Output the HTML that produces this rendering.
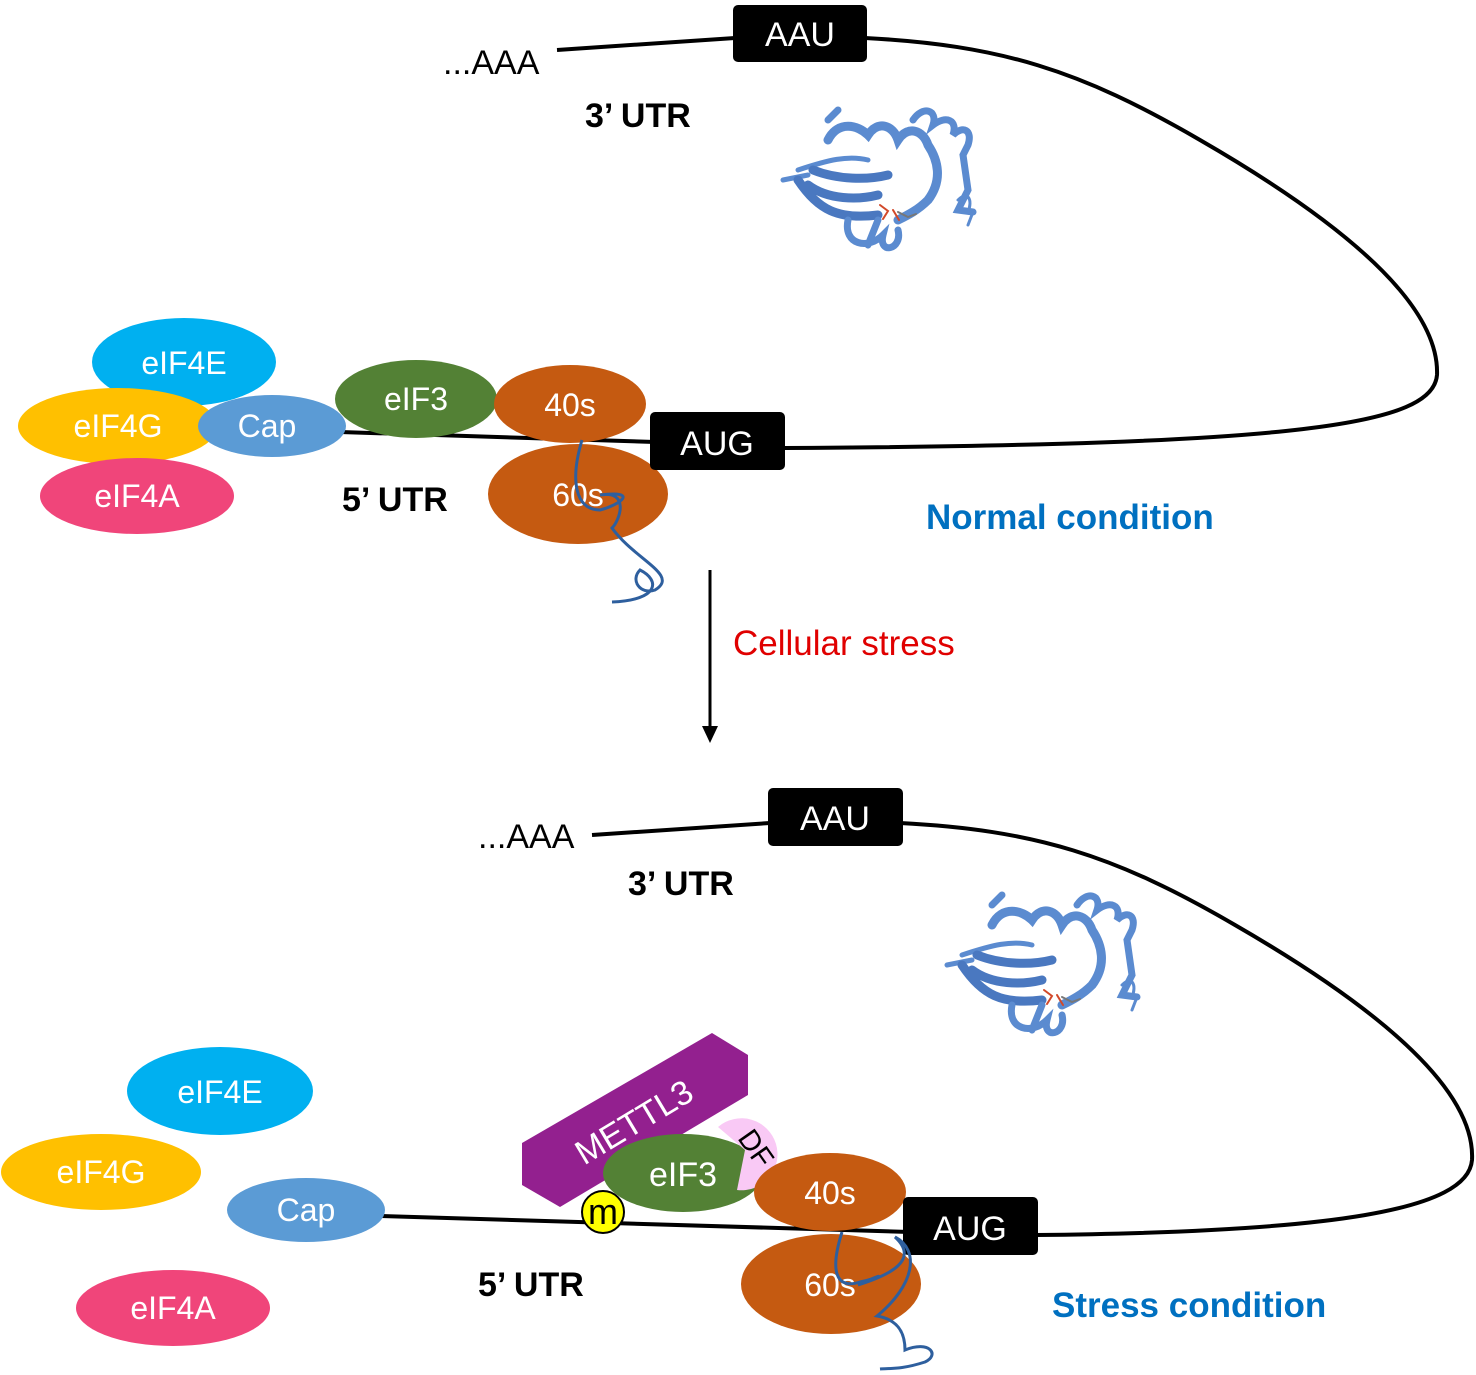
<!DOCTYPE html>
<html><head><style>body{margin:0;background:#fff}svg{display:block}</style></head><body>
<svg width="1476" height="1375" viewBox="0 0 1476 1375" xmlns="http://www.w3.org/2000/svg" font-family="Liberation Sans, sans-serif">
<defs>
<g id="prot" fill="none" stroke-linecap="round">
<path d="M15,80 L40,75 M30,70 C60,60 80,55 100,60" stroke="#5b8bd0" stroke-width="5"/>
<path d="M30,80 C50,110 70,120 110,115 M40,85 C60,100 90,100 110,95 M45,70 C70,80 100,80 120,75" stroke="#4a78c0" stroke-width="9"/>
<path d="M60,40 C70,20 90,25 100,35 C110,20 125,25 130,40 C140,25 155,30 160,45 C170,60 175,80 160,100 C150,110 140,115 130,120" stroke="#5b8bd0" stroke-width="9"/>
<path d="M145,20 C155,5 170,10 165,25 C178,15 190,20 185,35 C195,25 205,30 200,45 L195,55 L200,90 L190,110 L205,112" stroke="#5b8bd0" stroke-width="7"/>
<path d="M205,112 L200,125 M190,100 C200,90 205,100 200,112" stroke="#5b8bd0" stroke-width="3"/>
<path d="M80,120 C75,145 100,150 115,135 C110,155 135,150 130,130 M60,20 L70,10 M110,120 L100,145" stroke="#5b8bd0" stroke-width="7"/>
<path d="M112,105 l8,6 l-5,8 M125,110 l6,10" stroke="#d2492a" stroke-width="2"/>
<path d="M130,112 l10,5 l8,-3" stroke="#777" stroke-width="2"/>
</g>
</defs>
<!-- TOP -->
<path d="M557,50 L735,38" stroke="#000" stroke-width="4" fill="none"/>
<path d="M865,38 C1000,45 1080,70 1200,140 C1330,215 1440,300 1437,375 C1433,425 1300,445 785,448" stroke="#000" stroke-width="4" fill="none"/>
<path d="M340,432 L655,442" stroke="#000" stroke-width="4"/>
<rect x="733" y="5" width="134" height="57" rx="5" fill="#000"/>
<text x="800" y="46" font-size="34" fill="#fff" text-anchor="middle">AAU</text>
<text x="443" y="74" font-size="34" fill="#000">...AAA</text>
<text x="585" y="127" font-size="34" font-weight="bold" fill="#000">3’ UTR</text>
<use href="#prot" x="768" y="100"/>
<ellipse cx="184" cy="362" rx="92" ry="44" fill="#00b0f0"/>
<ellipse cx="118" cy="426" rx="100" ry="38" fill="#ffc000"/>
<ellipse cx="272" cy="426" rx="74" ry="31" fill="#5b9bd5"/>
<ellipse cx="137" cy="496" rx="97" ry="38" fill="#f0457a"/>
<ellipse cx="416" cy="399" rx="81" ry="39" fill="#538135"/>
<ellipse cx="570" cy="404" rx="76" ry="39" fill="#c55a11"/>
<ellipse cx="578" cy="494" rx="90" ry="50" fill="#c55a11"/>
<rect x="650" y="412" width="135" height="58" rx="5" fill="#000"/>
<text x="717" y="455" font-size="34" fill="#fff" text-anchor="middle">AUG</text>
<g font-size="32" fill="#fff" text-anchor="middle">
<text x="184" y="374">eIF4E</text><text x="118" y="437">eIF4G</text><text x="267" y="437">Cap</text>
<text x="137" y="507">eIF4A</text><text x="416" y="410">eIF3</text><text x="570" y="416">40s</text><text x="578" y="506">60s</text></g>
<text x="342" y="511" font-size="34" font-weight="bold" fill="#000">5’ UTR</text>
<path d="M582,440 C570,480 575,510 600,510 C620,505 640,490 600,495 C630,490 620,520 612,528 C635,560 680,575 655,590 C640,595 630,580 640,570 C660,580 660,600 612,602" stroke="#2e5f9e" stroke-width="3" fill="none"/>
<text x="926" y="529" font-size="35" font-weight="bold" fill="#0070c0">Normal condition</text>
<!-- ARROW -->
<line x1="710" y1="570" x2="710" y2="728" stroke="#000" stroke-width="3"/>
<path d="M702,726 L718,726 L710,743Z" fill="#000"/>
<text x="733" y="655" font-size="35" fill="#e00000">Cellular stress</text>
<!-- BOTTOM -->
<path d="M592,835 L770,823" stroke="#000" stroke-width="4" fill="none"/>
<path d="M900,823 C1035,830 1115,855 1235,925 C1365,1000 1476,1085 1472,1160 C1468,1210 1335,1232 1036,1235" stroke="#000" stroke-width="4" fill="none"/>
<path d="M380,1216 L910,1232" stroke="#000" stroke-width="4"/>
<rect x="768" y="788" width="135" height="58" rx="5" fill="#000"/>
<text x="835" y="830" font-size="34" fill="#fff" text-anchor="middle">AAU</text>
<text x="478" y="848" font-size="34" fill="#000">...AAA</text>
<text x="628" y="895" font-size="34" font-weight="bold" fill="#000">3’ UTR</text>
<use href="#prot" x="932" y="885"/>
<ellipse cx="220" cy="1091" rx="93" ry="44" fill="#00b0f0"/>
<ellipse cx="101" cy="1172" rx="100" ry="38" fill="#ffc000"/>
<ellipse cx="306" cy="1210" rx="79" ry="32" fill="#5b9bd5"/>
<ellipse cx="173" cy="1308" rx="97" ry="38" fill="#f0457a"/>
<polygon points="522,1143 712,1033 748,1055 748,1095 560,1207 522,1185" fill="#93208f"/>
<text x="0" y="0" font-size="34" fill="#fff" text-anchor="middle" transform="translate(640,1132) rotate(-31)">METTL3</text>
<ellipse cx="683" cy="1173" rx="80" ry="39" fill="#538135"/>
<path d="M718,1127 A36,36 0 1 1 737,1190 L745,1150 Z" fill="#f9c9f5"/>
<text x="0" y="0" font-size="29" fill="#000" text-anchor="middle" transform="translate(748,1154) rotate(55)">DF</text>
<text x="683" y="1186" font-size="34" fill="#fff" text-anchor="middle">eIF3</text>
<ellipse cx="830" cy="1192" rx="76" ry="39" fill="#c55a11"/>
<ellipse cx="831" cy="1284" rx="90" ry="50" fill="#c55a11"/>
<circle cx="603" cy="1212" r="21" fill="#ffff00" stroke="#000" stroke-width="2"/>
<text x="603" y="1224" font-size="36" fill="#000" text-anchor="middle">m</text>
<rect x="903" y="1197" width="135" height="58" rx="5" fill="#000"/>
<text x="970" y="1240" font-size="34" fill="#fff" text-anchor="middle">AUG</text>
<g font-size="32" fill="#fff" text-anchor="middle">
<text x="220" y="1103">eIF4E</text><text x="101" y="1183">eIF4G</text><text x="306" y="1221">Cap</text>
<text x="173" y="1319">eIF4A</text><text x="830" y="1204">40s</text><text x="830" y="1296">60s</text></g>
<text x="478" y="1296" font-size="34" font-weight="bold" fill="#000">5’ UTR</text>
<path d="M842,1232 C830,1270 835,1290 860,1282 C880,1278 890,1270 858,1285 C890,1275 920,1260 895,1237 C920,1250 915,1285 877,1316 C900,1320 905,1335 905,1350 C930,1340 940,1355 925,1362 C900,1370 890,1368 880,1369" stroke="#2e5f9e" stroke-width="3" fill="none"/>
<text x="1052" y="1317" font-size="35" font-weight="bold" fill="#0070c0">Stress condition</text>
</svg>
</body></html>
